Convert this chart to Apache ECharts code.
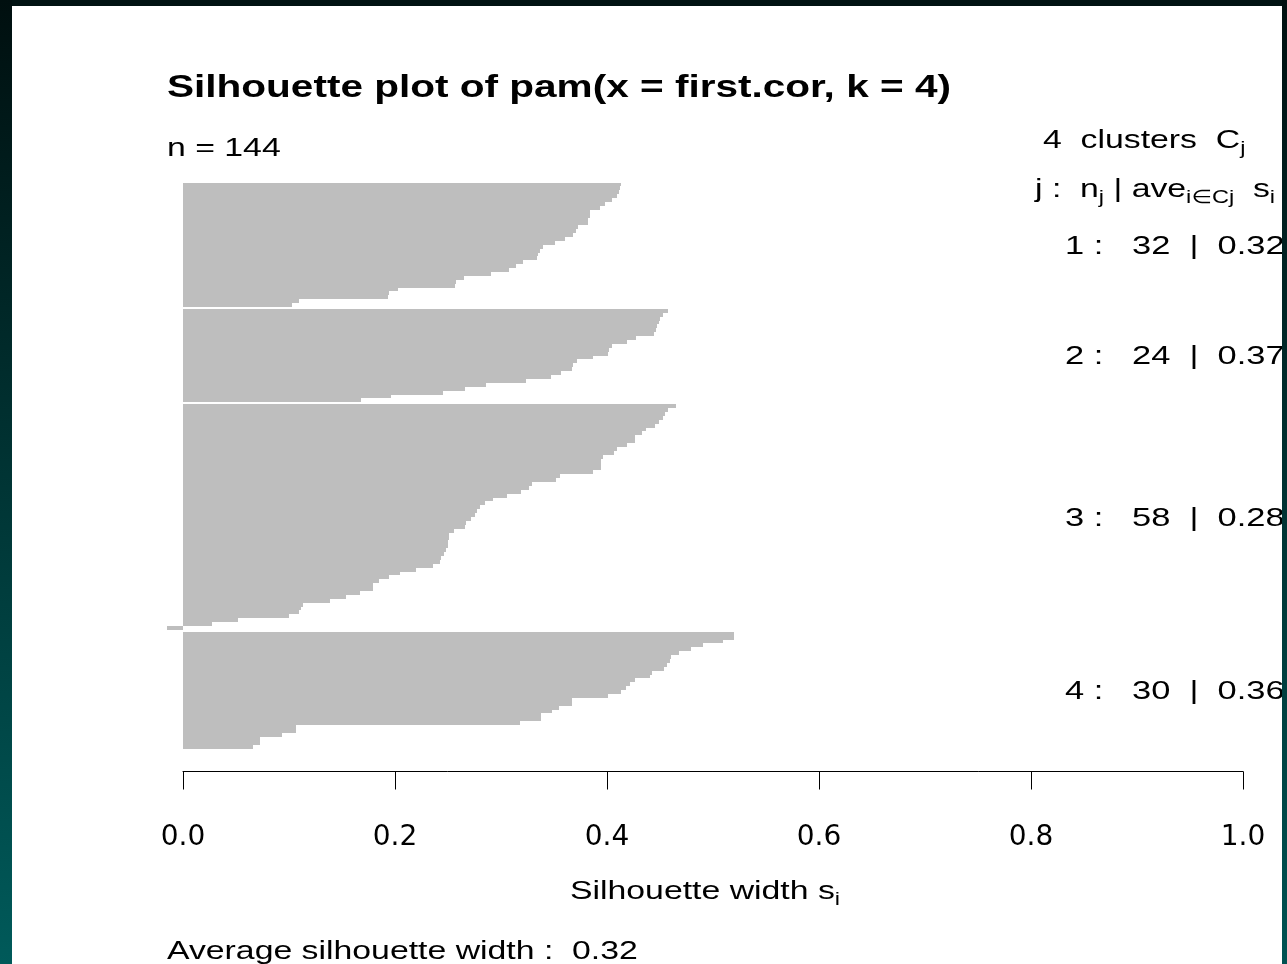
<!DOCTYPE html>
<html>
<head>
<meta charset="utf-8">
<script src="https://cdn.jsdelivr.net/npm/echarts@6/dist/echarts.min.js"></script>
<style>
html,body{margin:0;padding:0;background:#ffffff;}
#chart{width:1287px;height:964px;}
</style>
</head>
<body>
<div id="chart"></div>
<script>
// ---- data (silhouette widths, sorted within each cluster, top to bottom) ----
const clusterNames = ['1', '2', '3', '4'];
const cluster1 = [0.413, 0.412, 0.411, 0.409, 0.405, 0.398, 0.393, 0.384, 0.384, 0.382, 0.382,
  0.373, 0.371, 0.368, 0.360, 0.351, 0.340, 0.337, 0.335, 0.334, 0.321, 0.314, 0.308, 0.291,
  0.265, 0.258, 0.257, 0.203, 0.194, 0.193, 0.109, 0.103];
const cluster2 = [0.458, 0.453, 0.450, 0.449, 0.447, 0.446, 0.444, 0.427, 0.419, 0.405, 0.402,
  0.401, 0.387, 0.372, 0.368, 0.367, 0.357, 0.347, 0.324, 0.286, 0.266, 0.245, 0.196, 0.168];
const cluster3 = [0.465, 0.458, 0.455, 0.453, 0.449, 0.445, 0.437, 0.433, 0.426, 0.426, 0.419,
  0.409, 0.407, 0.396, 0.394, 0.394, 0.394, 0.387, 0.356, 0.352, 0.329, 0.326, 0.319, 0.306,
  0.292, 0.285, 0.280, 0.277, 0.275, 0.272, 0.267, 0.266, 0.256, 0.251, 0.251, 0.250, 0.250,
  0.248, 0.246, 0.243, 0.242, 0.236, 0.220, 0.205, 0.194, 0.185, 0.179, 0.179, 0.167, 0.154,
  0.139, 0.113, 0.111, 0.109, 0.100, 0.052, 0.027, -0.015];
const cluster4 = [0.520, 0.520, 0.509, 0.491, 0.479, 0.468, 0.460, 0.459, 0.457, 0.454, 0.442,
  0.441, 0.426, 0.422, 0.418, 0.413, 0.401, 0.367, 0.367, 0.355, 0.348, 0.338, 0.338, 0.318,
  0.107, 0.107, 0.093, 0.073, 0.073, 0.066];
const xTickValues = [0, 0.2, 0.4, 0.6, 0.8, 1.0];
const xTickLabels = ['0.0', '0.2', '0.4', '0.6', '0.8', '1.0'];
const titleText = 'Silhouette plot of pam(x = first.cor, k = 4)';

// ---- build ----
const clusters = [cluster1, cluster2, cluster3, cluster4];
const GAP = 0.5; // space between clusters, in bar units
const barData = [];
const labelData = [];
let pos = 0, total = 0, sumAll = 0;
clusters.forEach((vals, ci) => {
  const start = pos;
  vals.forEach(v => { barData.push([v, pos, ci]); pos += 1; sumAll += v; });
  const avg = vals.reduce((a, b) => a + b, 0) / vals.length;
  labelData.push([1, (start + pos) / 2, ci, vals.length, avg]);
  total += vals.length;
  if (ci < clusters.length - 1) pos += GAP;
});
const totalUnits = pos;
const overallAvg = sumAll / total;

const FONT = 'Liberation Sans, Arial, DejaVu Sans, sans-serif';
const SX = 1.275;      // horizontal stretch of the original bitmap text
const FS = 26.5;
const SUB = 18.5;

const chart = echarts.init(document.getElementById('chart'), null, {renderer: 'canvas'});

const richBase = {
  a: {fontSize: FS, fontFamily: FONT, fill: '#000'},
  s: {fontSize: SUB, fontFamily: FONT, fill: '#000', padding: [16, 0, 0, 0]}
};

function frameGrad(c0, c1) {
  return {type: 'linear', x: 0, y: 0, x2: 0, y2: 1,
    colorStops: [{offset: 0, color: c0}, {offset: 1, color: c1}]};
}

const option = {
  backgroundColor: '#ffffff',
  animation: false,
  grid: {left: 183, right: 44, top: 182.5, height: 566, containLabel: false},
  xAxis: {
    type: 'value', min: 0, max: 1, interval: 0.2, position: 'bottom', offset: 23,
    axisLine: {show: true, onZero: false, lineStyle: {color: '#000', width: 1}},
    axisTick: {show: true, inside: false, length: 18, lineStyle: {color: '#000', width: 1}},
    axisLabel: {
      margin: 52, color: '#000', fontFamily: 'DejaVu Sans', fontSize: 28,
      formatter: v => { const i = xTickValues.findIndex(t => Math.abs(t - v) < 1e-9); return i >= 0 ? xTickLabels[i] : ''; }
    },
    splitLine: {show: false}
  },
  yAxis: {type: 'value', inverse: true, min: 0, max: totalUnits, show: false},
  series: [
    {
      type: 'custom', name: 'silhouette', silent: true, clip: false,
      encode: {x: 0, y: 1},
      data: barData,
      renderItem: (params, api) => {
        const v = api.value(0), p = api.value(1);
        const a = api.coord([0, p]);
        const b = api.coord([v, p + 1]);
        const x0 = Math.round(Math.min(a[0], b[0]));
        const x1 = Math.round(Math.max(a[0], b[0]));
        const y0 = Math.round(a[1]);
        const y1 = Math.round(b[1]);
        return {type: 'rect', shape: {x: x0, y: y0, width: x1 - x0, height: y1 - y0},
          style: {fill: '#bebebe'}};
      }
    },
    {
      type: 'custom', name: 'clusterStats', silent: true, clip: false,
      encode: {x: 0, y: 1},
      data: labelData,
      renderItem: (params, api) => {
        const c = api.coord([api.value(0), api.value(1)]);
        const i = labelData[params.dataIndex];
        const txt = clusterNames[i[2]] + ' :   ' + i[3] + '  |  ' + i[4].toFixed(2);
        return {type: 'text', x: c[0] - 178, y: c[1] + 1.5, scaleX: 1.3,
          style: {text: txt, fontSize: FS, fontFamily: FONT, fill: '#000', align: 'left', verticalAlign: 'middle'}};
      }
    }
  ],
  graphic: [
    {type: 'text', x: 167, y: 88, scaleX: SX, z: 10,
      style: {text: titleText, fontSize: 31.8, fontWeight: 'bold', fontFamily: FONT, fill: '#000', align: 'left', verticalAlign: 'middle'}},
    {type: 'text', x: 167, y: 148.5, scaleX: SX, z: 10,
      style: {text: 'n = ' + total, fontSize: FS, fontFamily: FONT, fill: '#000', align: 'left', verticalAlign: 'middle'}},
    {type: 'text', x: 1043, y: 140.5, scaleX: SX, z: 10,
      style: {text: '{a|' + clusters.length + '  clusters  C}{s|j}', rich: richBase, align: 'left', verticalAlign: 'middle'}},
    {type: 'text', x: 1035, y: 189.5, scaleX: SX, z: 10,
      style: {text: '{a|j :  n}{s|j}{a| | ave}{s|i\u2208Cj}{a|  s}{s|i}', rich: richBase, align: 'left', verticalAlign: 'middle'}},
    {type: 'text', x: 705, y: 891.5, scaleX: SX, z: 10,
      style: {text: '{a|Silhouette width s}{s|i}', rich: richBase, align: 'center', verticalAlign: 'middle'}},
    {type: 'text', x: 167, y: 951.5, scaleX: SX, z: 10,
      style: {text: 'Average silhouette width :  ' + overallAvg.toFixed(2), fontSize: FS, fontFamily: FONT, fill: '#000', align: 'left', verticalAlign: 'middle'}},
    // screenshot frame
    {type: 'rect', z: 100, shape: {x: 0, y: 0, width: 1287, height: 6}, style: {fill: '#001212'}},
    {type: 'rect', z: 100, shape: {x: 0, y: 0, width: 12, height: 964}, style: {fill: frameGrad('#000f0f', '#005a5a')}},
    {type: 'rect', z: 100, shape: {x: 1282, y: 0, width: 5, height: 964}, style: {fill: frameGrad('#001010', '#005252')}}
  ]
};
chart.setOption(option);
</script>
</body>
</html>
